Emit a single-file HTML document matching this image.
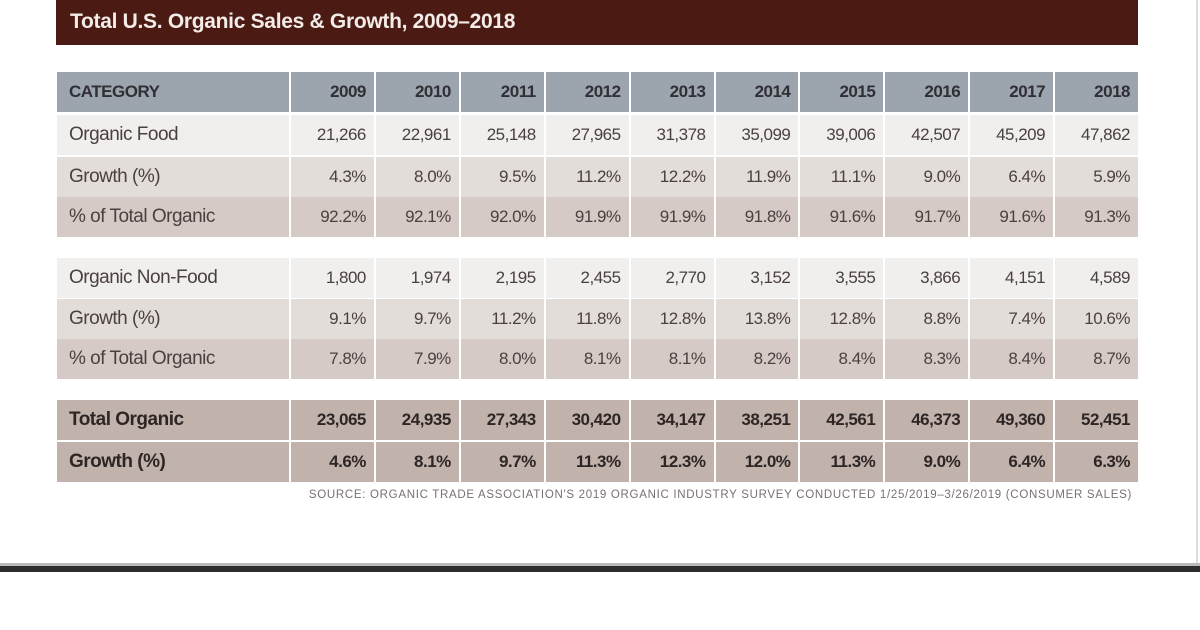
<!DOCTYPE html>
<html><head><meta charset="utf-8"><style>
body{margin:0;width:1200px;height:630px;background:#fff;position:relative;overflow:hidden;font-family:"Liberation Sans",sans-serif;}
.title{position:absolute;left:56px;top:0;width:1082px;height:45px;background:#4b1b13;color:#f3ece8;font-size:21px;font-weight:bold;line-height:44px;padding-left:14px;box-sizing:border-box;letter-spacing:-0.3px}
.row{position:absolute;left:57px;width:1081px;display:grid;grid-template-columns:232px repeat(10,1fr);column-gap:2px;height:40px}
.row div{padding:0 8px;line-height:40px;font-size:17px;color:#4a4040;text-align:right;letter-spacing:-0.5px;white-space:nowrap}
.row div:first-child{text-align:left;padding-left:12px;font-size:19px}
.h div{background:#9ca4ad;color:#2f2f35;font-weight:bold;font-size:17px}
.h div:first-child{font-size:17px}
.a div{background:#f1efed}
.b div{background:#e3ddd9}
.c div{background:#d5cac5}
.t div{background:#c1b3ac;color:#2e2624;font-weight:bold}
.src{position:absolute;left:200px;top:489px;width:932px;font-size:11.5px;color:#7a7070;text-align:right;letter-spacing:0.7px;white-space:nowrap}
.line1{position:absolute;left:0;top:563px;width:1200px;height:3px;background:#bbb}
.line2{position:absolute;left:0;top:566px;width:1200px;height:6px;background:#2e2e2e}
.vr{position:absolute;left:1196px;top:0;width:2px;height:566px;background:#ddd}
</style></head><body>
<div class="title">Total U.S. Organic Sales &amp; Growth, 2009–2018</div>
<div class="row h" style="top:72px"><div>CATEGORY</div><div>2009</div><div>2010</div><div>2011</div><div>2012</div><div>2013</div><div>2014</div><div>2015</div><div>2016</div><div>2017</div><div>2018</div></div>
<div class="row a" style="top:115px"><div>Organic Food</div><div>21,266</div><div>22,961</div><div>25,148</div><div>27,965</div><div>31,378</div><div>35,099</div><div>39,006</div><div>42,507</div><div>45,209</div><div>47,862</div></div>
<div class="row b" style="top:157px"><div>Growth (%)</div><div>4.3%</div><div>8.0%</div><div>9.5%</div><div>11.2%</div><div>12.2%</div><div>11.9%</div><div>11.1%</div><div>9.0%</div><div>6.4%</div><div>5.9%</div></div>
<div class="row c" style="top:197px"><div>% of Total Organic</div><div>92.2%</div><div>92.1%</div><div>92.0%</div><div>91.9%</div><div>91.9%</div><div>91.8%</div><div>91.6%</div><div>91.7%</div><div>91.6%</div><div>91.3%</div></div>
<div class="row a" style="top:258px"><div>Organic Non-Food</div><div>1,800</div><div>1,974</div><div>2,195</div><div>2,455</div><div>2,770</div><div>3,152</div><div>3,555</div><div>3,866</div><div>4,151</div><div>4,589</div></div>
<div class="row b" style="top:299px"><div>Growth (%)</div><div>9.1%</div><div>9.7%</div><div>11.2%</div><div>11.8%</div><div>12.8%</div><div>13.8%</div><div>12.8%</div><div>8.8%</div><div>7.4%</div><div>10.6%</div></div>
<div class="row c" style="top:339px"><div>% of Total Organic</div><div>7.8%</div><div>7.9%</div><div>8.0%</div><div>8.1%</div><div>8.1%</div><div>8.2%</div><div>8.4%</div><div>8.3%</div><div>8.4%</div><div>8.7%</div></div>
<div class="row t" style="top:400px"><div>Total Organic</div><div>23,065</div><div>24,935</div><div>27,343</div><div>30,420</div><div>34,147</div><div>38,251</div><div>42,561</div><div>46,373</div><div>49,360</div><div>52,451</div></div>
<div class="row t" style="top:442px"><div>Growth (%)</div><div>4.6%</div><div>8.1%</div><div>9.7%</div><div>11.3%</div><div>12.3%</div><div>12.0%</div><div>11.3%</div><div>9.0%</div><div>6.4%</div><div>6.3%</div></div>
<div class="src">SOURCE: ORGANIC TRADE ASSOCIATION'S 2019 ORGANIC INDUSTRY SURVEY CONDUCTED 1/25/2019–3/26/2019 (CONSUMER SALES)</div>
<div class="vr"></div>
<div class="line1"></div>
<div class="line2"></div>
</body></html>
